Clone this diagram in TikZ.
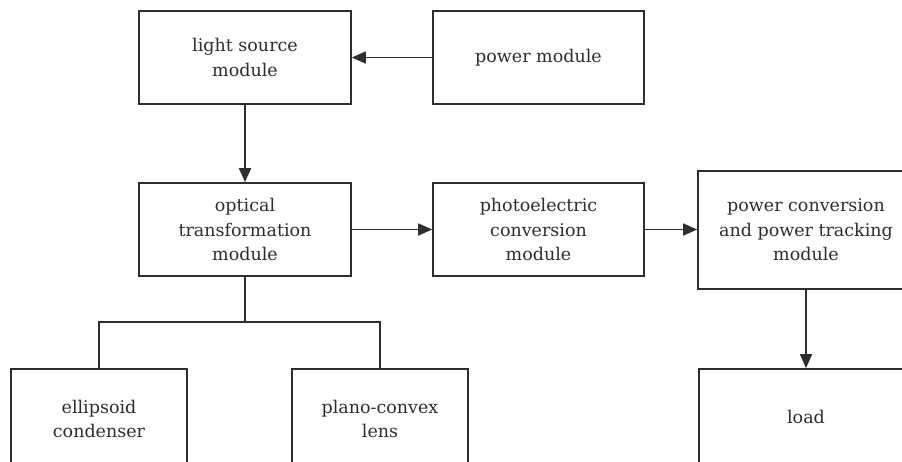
\documentclass[tikz,border=0pt]{standalone}
\usepackage{fontspec}
\setmainfont{DejaVu Serif}
\usetikzlibrary{arrows.meta}
\definecolor{ink}{HTML}{2E2E2E}
\begin{document}
\begin{tikzpicture}[x=1pt,y=-1pt,
  box/.style={draw=ink,line width=1.7pt,text=ink,align=center,inner sep=0pt,
    font=\fontsize{17.5}{24.5}\selectfont},
  conn/.style={draw=ink,line width=1.7pt},
  arr/.style={conn,-{Triangle[length=14pt,width=12pt]}}]
\useasboundingbox (0,0) rectangle (902,462);
\clip (0,0) rectangle (902,462);
\node[box,minimum width=212pt,minimum height=93pt] (ls) at (245,57.5) {light source\\module};
\node[box,minimum width=211pt,minimum height=93pt] (pm) at (538.5,57.5) {power module};
\node[box,minimum width=212pt,minimum height=93pt] (ot) at (245,229.5) {optical\\transformation\\module};
\node[box,minimum width=211pt,minimum height=93pt] (pc) at (538.5,229.5) {photoelectric\\conversion\\module};
\node[box,minimum width=216pt,minimum height=118pt] (pt) at (806,230) {power conversion\\and power tracking\\module};
\node[box,minimum width=214pt,minimum height=96pt] (ld) at (806,417) {load};
\node[box,minimum width=176pt,minimum height=100pt] (ec) at (99,419) {ellipsoid\\condenser};
\node[box,minimum width=176pt,minimum height=100pt] (pl) at (380,419) {plano-convex\\lens};
\coordinate (j) at (245,322);
\draw[arr] (pm.west) -- (ls.east);
\draw[arr] (ls.south) -- (ot.north);
\draw[arr] (ot.east) -- (pc.west);
\draw[arr] (pc.east) -- (pc.east -| pt.west);
\draw[arr] (pt.south) -- (ld.north);
\draw[conn] (ot.south) -- (j);
\draw[conn] (ec.north) |- (j) -| (pl.north);
\end{tikzpicture}
\end{document}
